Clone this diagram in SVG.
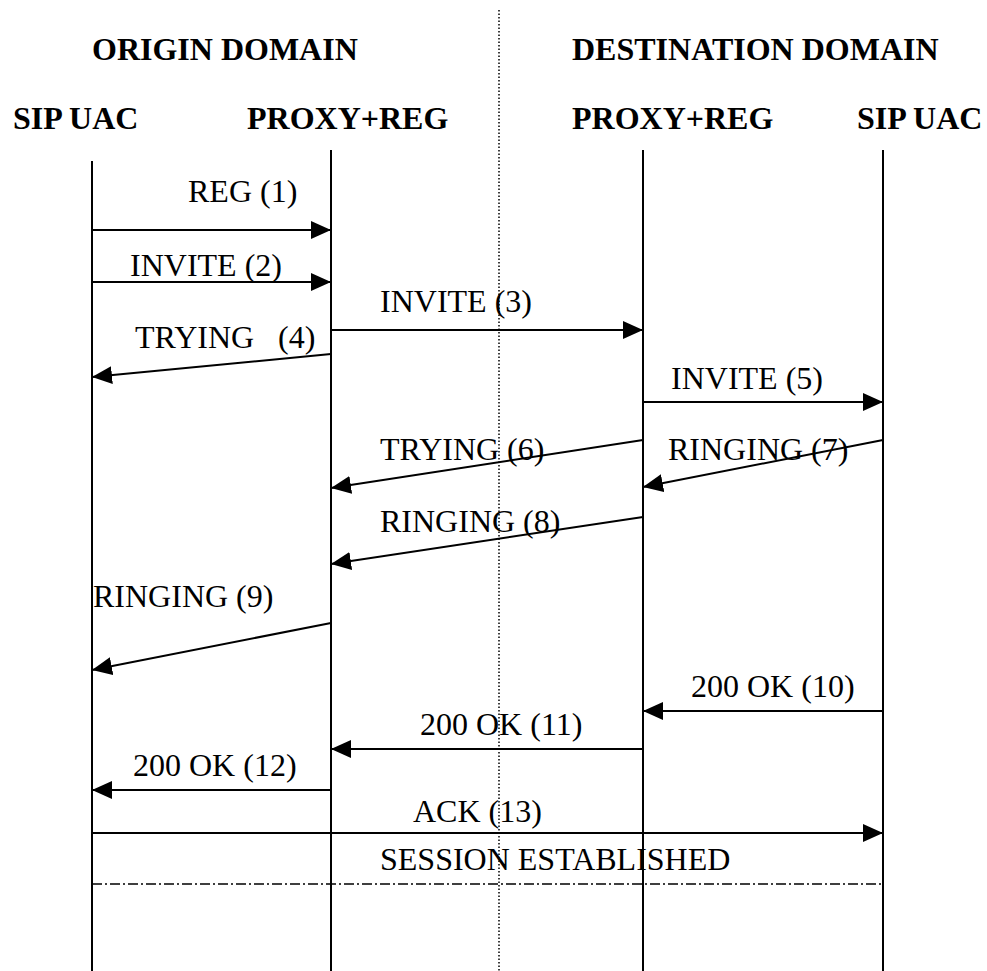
<svg xmlns="http://www.w3.org/2000/svg" width="987" height="971" viewBox="0 0 987 971">
<defs>
<marker id="ah" markerWidth="20" markerHeight="20" viewBox="0 0 20 20" refX="20" refY="10" orient="auto" markerUnits="userSpaceOnUse">
<path d="M0,1 L20,10 L0,19 Z" fill="#000"/>
</marker>
</defs>
<style>
.hd{font-family:"Liberation Serif","Times New Roman",serif;font-weight:bold;font-size:32px;fill:#000}
.lb{font-family:"Liberation Serif","Times New Roman",serif;font-size:32px;fill:#000}
.life{stroke:#000;stroke-width:2;fill:none}
.msg{stroke:#000;stroke-width:2;fill:none;marker-end:url(#ah)}
</style>
<rect width="987" height="971" fill="#fff"/>
<line x1="499" y1="10" x2="499" y2="971" stroke="#000" stroke-width="1.5" stroke-dasharray="1.5 2"/>
<g id="origin-domain"><text class="hd" x="92" y="60">ORIGIN DOMAIN</text></g>
<g id="destination-domain"><text class="hd" x="572" y="60">DESTINATION DOMAIN</text></g>
<g id="uac-left"><text class="hd" x="13" y="129">SIP UAC</text><line class="life" x1="92" y1="161" x2="92" y2="971"/></g>
<g id="proxy-left"><text class="hd" x="247" y="129">PROXY+REG</text><line class="life" x1="331" y1="150" x2="331" y2="971"/></g>
<g id="proxy-right"><text class="hd" x="572" y="129">PROXY+REG</text><line class="life" x1="643" y1="150" x2="643" y2="971"/></g>
<g id="uac-right"><text class="hd" x="857" y="129">SIP UAC</text><line class="life" x1="883" y1="150" x2="883" y2="971"/></g>
<g id="connectors">
<line class="msg" x1="92" y1="230" x2="331" y2="230"/>
<line class="msg" x1="92" y1="282" x2="331" y2="282"/>
<line class="msg" x1="331" y1="330" x2="643" y2="330"/>
<line class="msg" x1="331" y1="354" x2="92" y2="377"/>
<line class="msg" x1="643" y1="402" x2="883" y2="402"/>
<line class="msg" x1="643" y1="440" x2="331" y2="488"/>
<line class="msg" x1="883" y1="440" x2="643" y2="487"/>
<line class="msg" x1="643" y1="517" x2="331" y2="564"/>
<line class="msg" x1="331" y1="623" x2="92" y2="670"/>
<line class="msg" x1="883" y1="711" x2="643" y2="711"/>
<line class="msg" x1="643" y1="749" x2="331" y2="749"/>
<line class="msg" x1="331" y1="790" x2="92" y2="790"/>
<line class="msg" x1="92" y1="833" x2="883" y2="833"/>
<line x1="92" y1="884" x2="883" y2="884" stroke="#000" stroke-width="1.5" stroke-dasharray="10 3 2 3"/>
<text class="lb" x="188" y="202">REG (1)</text>
<text class="lb" x="130" y="276">INVITE (2)</text>
<text class="lb" x="380" y="312">INVITE (3)</text>
<text class="lb" x="135" y="348" xml:space="preserve">TRYING   (4)</text>
<text class="lb" x="671" y="389">INVITE (5)</text>
<text class="lb" x="380" y="460">TRYING (6)</text>
<text class="lb" x="668" y="460">RINGING (7)</text>
<text class="lb" x="380" y="532">RINGING (8)</text>
<text class="lb" x="93" y="607">RINGING (9)</text>
<text class="lb" x="691" y="697">200 OK (10)</text>
<text class="lb" x="420" y="735">200 OK (11)</text>
<text class="lb" x="133" y="776">200 OK (12)</text>
<text class="lb" x="413" y="822">ACK (13)</text>
<text class="lb" x="380" y="870">SESSION ESTABLISHED</text>
</g>
</svg>
